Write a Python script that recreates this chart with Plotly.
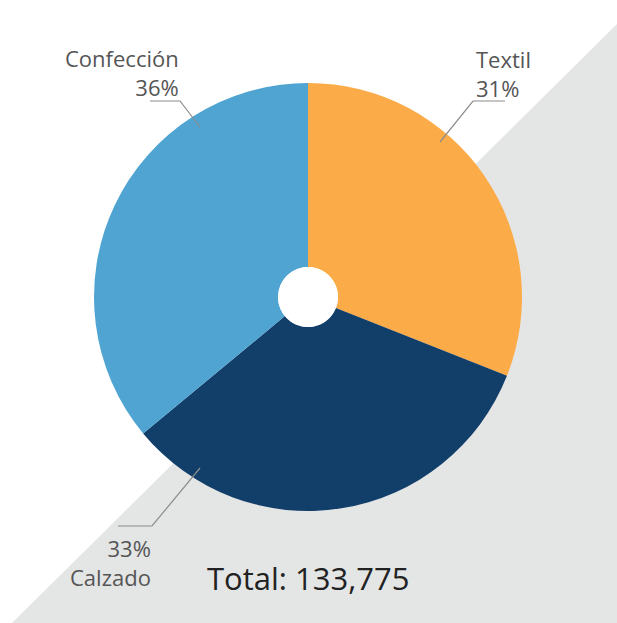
import plotly.graph_objects as go

W, H = 617, 623

categories = ["Textil", "Calzado", "Confección"]
values = [31, 33, 36]
pct_labels = ["31%", "33%", "36%"]
colors = ["#FBAB47", "#123F6A", "#50A4D2"]
total_label = "Total: 133,775"

cx, cy, r = 308, 297, 214
hole_r = 30


def px(x):
    return x / W


def py(y):
    return 1 - y / H


fig = go.Figure(go.Pie(
    labels=categories,
    values=values,
    marker=dict(colors=colors, line=dict(width=0)),
    hole=hole_r / r,
    sort=False,
    direction="clockwise",
    rotation=0,
    textinfo="none",
    hoverinfo="label+percent",
    showlegend=False,
    domain=dict(x=[px(cx - r), px(cx + r)], y=[py(cy + r), py(cy - r)]),
))

shapes = [
    # grey diagonal background
    dict(type="path", xref="paper", yref="paper", layer="below",
         path=f"M {px(617)},{py(24)} L {px(617)},{py(623)} L {px(12)},{py(623)} Z",
         fillcolor="#E4E5E5", line=dict(width=0)),
    # white centre of the donut
    dict(type="circle", xref="paper", yref="paper", layer="above",
         x0=px(cx - hole_r), x1=px(cx + hole_r), y0=py(cy + hole_r), y1=py(cy - hole_r),
         fillcolor="#FFFFFF", line=dict(width=0)),
]
line_style = dict(color="#8C8C8C", width=1.2)
leaders = [
    [(150, 101), (180, 101), (200, 127)],
    [(505, 101), (473, 101), (440, 142)],
    [(118, 526), (152, 526), (200, 468)],
]
for pts in leaders:
    p = " ".join(("M" if i == 0 else "L") + f" {px(x)},{py(y)}" for i, (x, y) in enumerate(pts))
    shapes.append(dict(type="path", xref="paper", yref="paper", path=p, line=line_style))

font = "Open Sans, sans-serif"
tc = "#555555"
fs = 22
lab_font = dict(size=fs, color=tc, family=font)
annotations = [
    dict(text=f"{categories[2]}<br>{pct_labels[2]}", x=px(181), y=py(72),
         xanchor="right", yanchor="middle", align="right", font=lab_font),
    dict(text=f"{categories[0]}<br>{pct_labels[0]}", x=px(474), y=py(73),
         xanchor="left", yanchor="middle", align="left", font=lab_font),
    dict(text=f"{pct_labels[1]}<br>{categories[1]}", x=px(153), y=py(562),
         xanchor="right", yanchor="middle", align="right", font=lab_font),
    dict(text=total_label, x=px(308), y=py(578), xanchor="center", yanchor="middle",
         font=dict(size=31, color="#222222", family=font)),
]
for a in annotations:
    a.update(xref="paper", yref="paper", showarrow=False)

fig.update_layout(
    width=W, height=H,
    margin=dict(l=0, r=0, t=0, b=0),
    paper_bgcolor="#FFFFFF",
    plot_bgcolor="#FFFFFF",
    shapes=shapes,
    annotations=annotations,
)

fig.write_html(
    "out.html",
    config=dict(displayModeBar=False),
    post_script="document.body.style.margin='0';document.body.style.overflow='hidden';",
)
